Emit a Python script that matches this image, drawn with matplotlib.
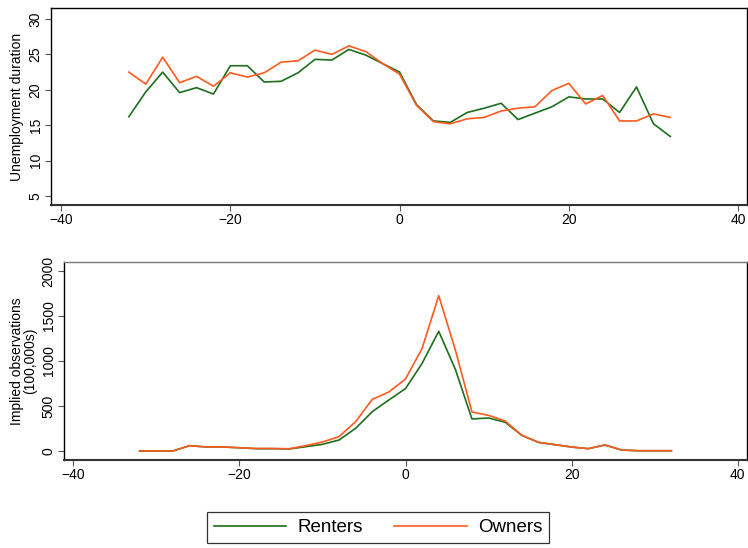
import matplotlib
matplotlib.use("Agg")
import matplotlib.pyplot as plt
from matplotlib.lines import Line2D

plt.rcParams['font.family'] = ['Liberation Sans', 'DejaVu Sans']

event_time = list(range(-32, 34, 2))

renters_duration = [16.2, 19.7, 22.5, 19.6, 20.3, 19.4, 23.4, 23.4, 21.1, 21.2, 22.4, 24.3, 24.2,
                     25.7, 24.9, 23.7, 22.5, 17.9, 15.6, 15.4, 16.8, 17.4, 18.1, 15.8, 16.7, 17.6,
                     19.0, 18.7, 18.7, 16.8, 20.4, 15.2, 13.4]
owners_duration = [22.5, 20.8, 24.6, 21.0, 21.9, 20.5, 22.4, 21.8, 22.4, 23.9, 24.1, 25.6, 25.0,
                   26.2, 25.4, 23.7, 22.2, 17.8, 15.5, 15.2, 15.9, 16.1, 17.0, 17.4, 17.6, 19.9,
                   20.9, 18.0, 19.2, 15.6, 15.6, 16.6, 16.1]

renters_obs = [0, 0, 0, 59, 45, 45, 36, 26, 26, 22, 48, 74, 122, 252, 437, 567, 693, 974, 1330,
               907, 356, 367, 319, 174, 96, 70, 44, 26, 67, 11, 3, 3, 3]
owners_obs = [0, 0, 0, 59, 45, 45, 36, 28, 28, 25, 59, 100, 159, 326, 574, 656, 800, 1141, 1726,
              1122, 433, 396, 333, 174, 96, 70, 44, 26, 67, 11, 3, 3, 3]

series_labels = ["Renters", "Owners"]
x_ticks = [-40, -20, 0, 20, 40]
x_tick_labels = ["\u221240", "\u221220", "0", "20", "40"]
top_y_ticks = [5, 10, 15, 20, 25, 30]
bottom_y_ticks = [0, 500, 1000, 1500, 2000]

GREEN = '#1d6e1d'
ORANGE = '#ff5a1f'

fig = plt.figure(figsize=(7.48, 5.48), dpi=100)
ax1 = fig.add_axes([51/748, 1-205/548, 696/748, 197/548])
ax2 = fig.add_axes([64/748, 1-460/548, 683/748, 198/548])

ax1.plot(event_time, renters_duration, color=GREEN, lw=1.2)
ax1.plot(event_time, owners_duration, color=ORANGE, lw=1.2)
ax1.set_xlim(-41.2, 41.06)
ax1.set_ylim(3.73, 31.55)
ax1.set_yticks(top_y_ticks)
ax1.set_ylabel("Unemployment duration", fontsize=10, labelpad=3)

ax2.plot(event_time, renters_obs, color=GREEN, lw=1.2)
ax2.plot(event_time, owners_obs, color=ORANGE, lw=1.2)
ax2.set_xlim(-41.1, 41.1)
ax2.set_ylim(-100, 2100)
ax2.set_yticks(bottom_y_ticks)
ax2.set_ylabel("Implied observations\n(100,000s)", fontsize=10, labelpad=3, linespacing=0.95)

for ax in (ax1, ax2):
    ax.set_xticks(x_ticks)
    ax.set_xticklabels(x_tick_labels)
    ax.tick_params(axis='both', direction='out', length=4, width=0.8, color='#555555',
                   labelsize=10, pad=2)
    for lab in ax.get_yticklabels():
        lab.set_rotation(90)
        lab.set_va('center')
    for s in ax.spines.values():
        s.set_color('black')
        s.set_linewidth(1.0)
    ax.spines['bottom'].set_color('#333333')
    ax.spines['bottom'].set_linewidth(1.5)
ax2.spines['top'].set_color('#777777')

handles = [Line2D([], [], color=GREEN, lw=1.2), Line2D([], [], color=ORANGE, lw=1.2)]
leg = fig.legend(handles, series_labels, loc='center', bbox_to_anchor=(378/748, 1-527.5/548),
                 ncol=2, fontsize=13.5, frameon=True, fancybox=False, edgecolor='black',
                 handlelength=3.85, columnspacing=1.7, borderpad=0.35, handletextpad=0.6)
leg.get_frame().set_linewidth(0.9)

fig.savefig("out.png", dpi=100)
